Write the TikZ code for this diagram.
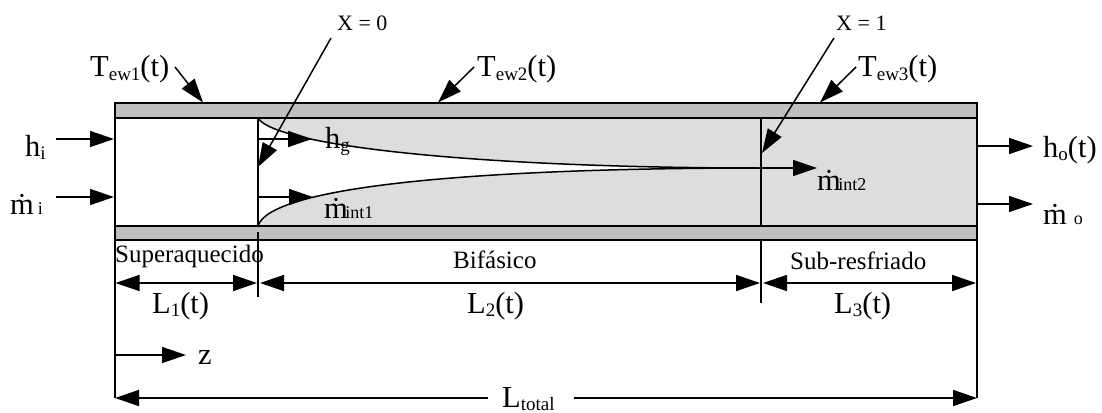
\documentclass[tikz,border=0pt]{standalone}
\usepackage{fontspec}
\setmainfont{Liberation Serif}
\usetikzlibrary{arrows.meta}
\definecolor{flow}{HTML}{DDDDDD}
\definecolor{wall}{HTML}{BFBFBF}
\tikzset{
  x=1pt,y=-1pt,
  ln/.style={draw=black,line width=1.5pt},
  arr/.style={ln,-{Triangle[length=24pt,width=16pt]}},
  dbl/.style={ln,{Triangle[length=24pt,width=16pt]}-{Triangle[length=24pt,width=16pt]}},
  big/.style={font=\fontsize{30.5}{30.5}\selectfont,inner sep=0pt,anchor=base west},
  mid/.style={font=\fontsize{25}{25}\selectfont,inner sep=0pt,anchor=base west},
  sml/.style={font=\fontsize{22}{22}\selectfont,inner sep=0pt,anchor=base west},
}
\newcommand{\mdot}{\.{m}}
\newcommand{\subs}[1]{\raisebox{-3pt}{\fontsize{19}{19}\selectfont #1}}
\newcommand{\subb}[1]{{\fontsize{18}{18}\selectfont #1}}
\begin{document}
\begin{tikzpicture}
\useasboundingbox (0,0) rectangle (1102,412);
\coordinate (A) at (115,103);
\coordinate (B) at (977,118);
\coordinate (C) at (115,226);
\coordinate (D) at (977,240);
\coordinate (X0t) at (258,118);
\coordinate (X0b) at (258,226);
\coordinate (X1t) at (761,118);
\coordinate (X1b) at (761,226);
\coordinate (M) at (761,168);
% fills
\fill[flow] (X0t) .. controls (275,146) and (480,168) .. (M) -- (X1t) -- cycle;
\fill[flow] (X0b) .. controls (270,186) and (480,168) .. (M) -- (X1b) -- cycle;
\fill[flow] (X1t) rectangle (977,226);
\draw[ln,fill=wall] (A) rectangle (B);
\draw[ln,fill=wall] (C) rectangle (D);
\draw[ln] (115,118) -- (115,226);
\draw[ln] (977,118) -- (977,226);
\draw[ln] (X0t) -- (X0b);
\draw[ln] (X1t) -- (X1b);
\draw[ln] (X0t) .. controls (275,146) and (480,168) .. (M);
\draw[ln] (X0b) .. controls (270,186) and (480,168) .. (M);
% extension lines
\coordinate (E0) at (115,240);
\coordinate (E1) at (115,398);
\coordinate (F0) at (977,240);
\coordinate (F1) at (977,398);
\draw[ln] (E0) -- (E1);
\draw[ln] (F0) -- (F1);
\coordinate (G0) at (258,232);
\coordinate (G1) at (258,297);
\coordinate (H0) at (761,240);
\coordinate (H1) at (761,303);
\draw[ln] (G0) -- (G1);
\draw[ln] (H0) -- (H1);
% dimensions
\coordinate (d1a) at (115.5,283);
\coordinate (d1b) at (257,283);
\coordinate (d2a) at (260,283);
\coordinate (d2b) at (760,283);
\coordinate (d3a) at (763,283);
\coordinate (d3b) at (976,283);
\draw[dbl] (d1a) -- (d1b);
\draw[dbl] (d2a) -- (d2b);
\draw[dbl] (d3a) -- (d3b);
\node[big] (Ltot) at (502,407) {L\subs{total}};
\coordinate (Ll) at (488,398);
\coordinate (Lr) at (574,398);
\draw[ln,{Triangle[length=24pt,width=16pt]}-] (E1) -- (Ll);
\draw[arr] (Lr) -- (F1);
% labels
\node[mid] (sup) at (115,262) {Superaquecido};
\node[mid] (bif) at (453,268) {Bifásico};
\node[mid] (sub) at (790,269) {Sub-resfriado};
\node[big] (l1) at (152,313) {L\subs{1}(t)};
\node[big] (l2) at (467,313) {L\subs{2}(t)};
\node[big] (l3) at (834,313) {L\subs{3}(t)};
\node[big] (z) at (198,364) {z};
\coordinate (z0) at (115,355);
\coordinate (z1) at (186,355);
\draw[arr] (z0) -- (z1);
% inlet
\node[big] (hi) at (25,156) {h\subs{i}};
\node[big] (mi) at (10,214) {\mdot\kern4pt\subb{i}};
\coordinate (hi1) at (56,139);
\coordinate (hi2) at (114,139);
\coordinate (mi1) at (56,197);
\coordinate (mi2) at (114,197);
\draw[arr] (hi1) -- (hi2);
\draw[arr] (mi1) -- (mi2);
% outlet
\node[big] (ho) at (1043,157) {h\subs{o}(t)};
\node[big] (mo) at (1043,224) {\mdot\kern7pt\subb{o}};
\coordinate (ho1) at (977,146);
\coordinate (ho2) at (1033,146);
\coordinate (mo1) at (977,204);
\coordinate (mo2) at (1033,204);
\draw[arr] (ho1) -- (ho2);
\draw[arr] (mo1) -- (mo2);
% inner
\node[big] (hg) at (325,148) {h\subs{g}};
\node[big] (m1) at (324,218) {\mdot\kern-2.5pt\subb{int1}};
\node[big] (m2) at (817,190) {\mdot\kern-2.5pt\subb{int2}};
\coordinate (a1) at (258,139);
\coordinate (a2) at (312,139);
\coordinate (b1) at (258,197);
\coordinate (b2) at (313,197);
\coordinate (c2) at (817,168);
\draw[arr] (a1) -- (a2);
\draw[arr] (b1) -- (b2);
\draw[arr] (M) -- (c2);
% top labels
\node[big] (t1) at (90,77) {T\subs{ew1}(t)};
\node[big] (t2) at (477,77) {T\subs{ew2}(t)};
\node[big] (t3) at (858,77) {T\subs{ew3}(t)};
\coordinate (t1a) at (175,67);
\coordinate (t1b) at (203,102.5);
\coordinate (t2a) at (474,67);
\coordinate (t2b) at (438,102.5);
\coordinate (t3a) at (856,67);
\coordinate (t3b) at (820,102.5);
\draw[arr] (t1a) -- (t1b);
\draw[arr] (t2a) -- (t2b);
\draw[arr] (t3a) -- (t3b);
\node[sml] (x0) at (337,31) {X = 0};
\node[sml] (x1) at (836,31) {X = 1};
\coordinate (x0a) at (331,38);
\coordinate (x0b) at (258,167);
\coordinate (x1a) at (834,38);
\coordinate (x1b) at (762,153);
\draw[arr] (x0a) -- (x0b);
\draw[arr] (x1a) -- (x1b);
\end{tikzpicture}
\end{document}
